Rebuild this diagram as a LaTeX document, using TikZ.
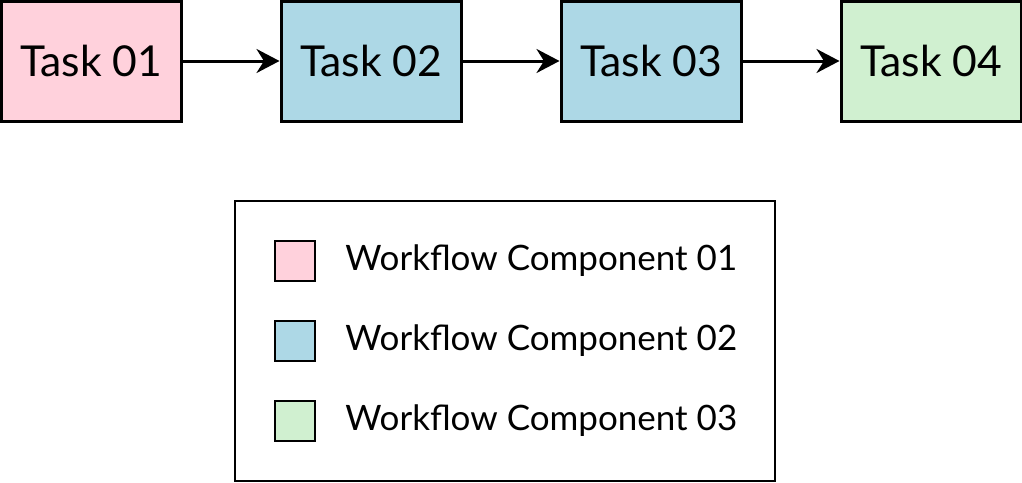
\documentclass[tikz,border=0pt]{standalone}
\usepackage{fontspec}
\setmainfont{Lato}
\usepackage{tikz}
\usetikzlibrary{arrows.meta,positioning}
\definecolor{wfpink}{RGB}{255,209,220}
\definecolor{wfblue}{RGB}{173,216,230}
\definecolor{wfgreen}{RGB}{208,240,208}

\begin{document}
\begin{tikzpicture}[x=0.5pt,y=-0.5pt,>={Stealth[length=11.5pt,width=12pt]},
    task/.style={draw,line width=1.5pt,minimum width=90pt,minimum height=60pt,inner sep=0pt,font=\fontsize{21.3}{24}\selectfont},
    swatch/.style={draw,line width=1pt,minimum size=20pt,inner sep=0pt},
    entry/.style={anchor=west,inner sep=0pt,font=\fontsize{17.5}{20}\selectfont}]
  \useasboundingbox (0,0) rectangle (1022,482);
  \node[task,fill=wfpink] (t1) at (91,61) {Task 01};
  \node[task,fill=wfblue] (t2) at (371,61) {Task 02};
  \node[task,fill=wfblue] (t3) at (651,61) {Task 03};
  \node[task,fill=wfgreen] (t4) at (931,61) {Task 04};
  \foreach \a/\b in {t1/t2,t2/t3,t3/t4}
    \draw[->,line width=1.5pt] (\a) -- (\b);
  % legend
  \node[draw,line width=1pt,minimum width=270pt,minimum height=140pt] (legend) at (505,341) {};
  \node[swatch,fill=wfpink] (s1) at (295,261) {};
  \node[swatch,fill=wfblue] (s2) at (295,341) {};
  \node[swatch,fill=wfgreen] (s3) at (295,421) {};
  \node[entry] (l1) at (345,261) {Workflow Component 01};
  \node[entry] (l2) at (345,341) {Workflow Component 02};
  \node[entry] (l3) at (345,421) {Workflow Component 03};
\end{tikzpicture}
\end{document}
